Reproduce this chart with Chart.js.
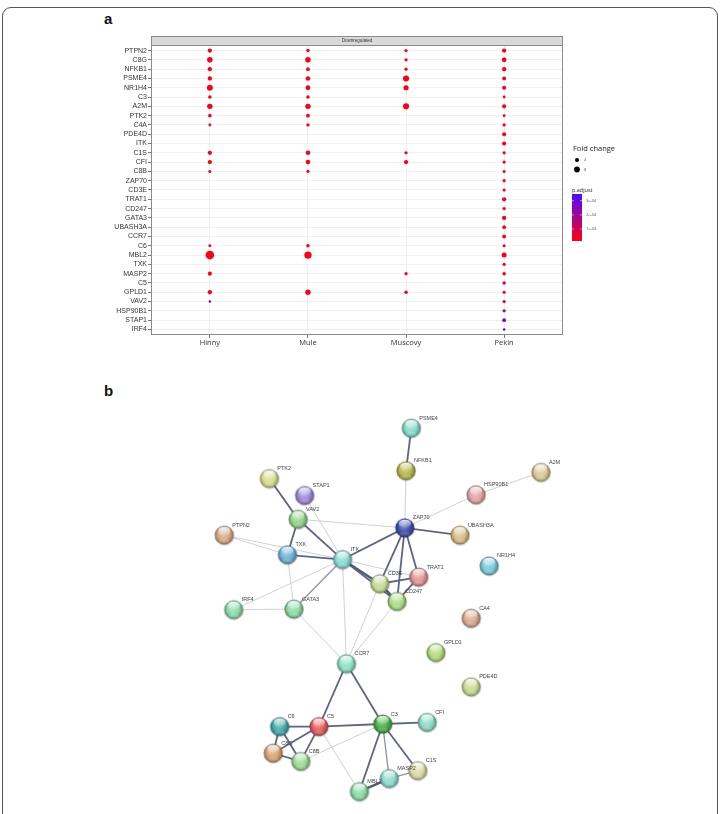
<!DOCTYPE html>
<html>
<head>
<meta charset="utf-8">
<script src="https://cdn.jsdelivr.net/npm/chart.js@4.4.1/dist/chart.umd.min.js"></script>
<style>
  html,body{margin:0;padding:0;background:#fff;}
  body{width:723px;height:814px;position:relative;overflow:hidden;font-family:"Liberation Sans",Arial,sans-serif;}
  #frame{position:absolute;left:2px;top:7px;width:716px;height:830px;border:1.5px solid #555;border-radius:9px;box-sizing:border-box;}
  .plabel{position:absolute;font:bold 15px "Liberation Sans",Arial,sans-serif;color:#111;}
  #cA{position:absolute;left:0;top:0;}
  #cB{position:absolute;left:0;top:395px;}
</style>
</head>
<body>
<div id="frame"></div>
<div class="plabel" style="left:104px;top:10px;">a</div>
<div class="plabel" style="left:104px;top:382px;">b</div>
<canvas id="cA" width="723" height="360"></canvas>
<canvas id="cB" width="723" height="419"></canvas>
<script>
// ---------------- Panel a data ----------------
const genes = ['PTPN2','C8G','NFKB1','PSME4','NR1H4','C3','A2M','PTK2','C4A','PDE4D','ITK','C1S','CFI','C8B','ZAP70','CD3E','TRAT1','CD247','GATA3','UBASH3A','CCR7','C6','MBL2','TXK','MASP2','C5','GPLD1','VAV2','HSP90B1','STAP1','IRF4'];
const groups = ['Hinny','Mule','Muscovy','Pekin'];
const stripTitle = 'Downregulated';

const foldHinny   = [4.5,7.5,4.5,4.5,8.5,3,7,3,2,null,null,4.5,4.5,2.2,null,null,null,null,null,null,null,2,18,null,4,null,4.5,1.5,null,null,null];
const foldMule    = [3,7.5,3.5,5,5.5,3,7,3.5,2.5,null,null,5,5,2.5,null,null,null,null,null,null,null,3,13,null,null,null,7,null,null,null,null];
const foldMuscovy = [2.5,2.5,2.5,9,6.5,null,9,null,null,null,null,2.5,4.5,null,null,null,null,null,null,null,null,null,null,null,2.5,null,3,null,null,null,null];
const foldPekin   = [4.5,5.5,4.5,3.5,4,2,4,2,2.5,4,4,2.5,2.5,2.2,2.5,2.5,4.5,2.5,4.5,3.5,3.5,2.2,6,2.5,3,3,2.5,2.5,2.5,3.5,1.5];

const padjHinny   = [2e-5,2e-5,2e-5,2e-5,2e-5,2e-5,2e-5,2e-5,2e-5,null,null,2e-5,2e-5,2e-5,null,null,null,null,null,null,null,2e-5,2e-5,null,2e-5,null,2e-5,2.2e-4,null,null,null];
const padjMule    = [2e-5,2e-5,2e-5,2e-5,2e-5,2e-5,2e-5,2e-5,2e-5,null,null,2e-5,2e-5,2e-5,null,null,null,null,null,null,null,2e-5,2e-5,null,null,null,2e-5,null,null,null,null];
const padjMuscovy = [2e-5,2e-5,2e-5,2e-5,2e-5,null,2e-5,null,null,null,null,2e-5,2e-5,null,null,null,null,null,null,null,null,null,null,null,2.5e-5,null,2.5e-5,null,null,null,null];
const padjPekin   = [2e-5,2e-5,2e-5,2e-5,2e-5,2e-5,2e-5,2e-5,2e-5,2e-5,2e-5,2e-5,2e-5,2e-5,2e-5,2e-5,2e-5,2e-5,2e-5,2e-5,2e-5,2.5e-5,2e-5,2.5e-5,3e-5,6e-5,4e-5,8e-5,2.4e-4,3.0e-4,3.3e-4];

const foldLegendValues = [4, 8];
const padjLegendTicks = [3e-4, 2e-4, 1e-4];
const padjLegendLabels = ['3e-04','2e-04','1e-04'];
const padjRange = [1.6e-5, 3.47e-4];

// ---------------- Panel b data ----------------
const nodeNames = ['PSME4','NFKB1','PTK2','STAP1','VAV2','ZAP70','PTPN2','TXK','ITK','TRAT1','CD3E','CD247','IRF4','GATA3','UBASH3A','HSP90B1','A2M','NR1H4','CA4','GPLD1','PDE4D','CCR7','C6','C5','C3','CFI','C8G','C8B','MASP2','C1S','MBL2'];
const nodeX = [412.7,407.3,266.7,303,296.3,406,220.3,285.3,342,420.3,380.3,398,230,292,462.7,479.3,546,492.7,474.3,438,474.3,346,277.3,317.7,383.3,429,270.7,299,390,419.3,359.3];
const nodeY = [419.3,464,472.3,490,515,524,531.7,552.3,557.3,575.7,582.7,601.3,610,609.3,531.7,489.3,465.7,564,619,655,691,666.7,732.7,732.7,730,728.3,760.7,769.3,787.3,779,801];
const nodeColors = ['#86dccb','#b8b84c','#d9df8e','#9e8ad9','#92d68e','#3f4faa','#d9aa84','#6cb4da','#84dcd4','#e39597','#c6dc92','#acdc84','#8cdcac','#8cdca4','#dbbc84','#e4a4a4','#dcca94','#7ccadb','#dbab94','#b3da7c','#cbda94','#8ce2c4','#44aaab','#e35c5c','#44b246','#8cdcc4','#dba474','#9cdc94','#8cdccc','#dcdca4','#8cdca4'];

const edgeFrom  = ['PSME4','NFKB1','PTK2','STAP1','VAV2','VAV2','VAV2','PTPN2','PTPN2','TXK','TXK','ITK','ITK','ITK','ITK','ITK','ITK','ITK','ZAP70','ZAP70','ZAP70','ZAP70','ZAP70','CD3E','CD3E','CD247','CD3E','CD247','IRF4','GATA3','HSP90B1','CCR7','CCR7','C6','C5','C3','C6','C6','C5','C5','C8G','C3','C5','C3','C3','C3','MASP2','MBL2'];
const edgeTo    = ['NFKB1','ZAP70','VAV2','ITK','ZAP70','TXK','ITK','TXK','ITK','ITK','GATA3','ZAP70','CD3E','CD247','TRAT1','IRF4','GATA3','CCR7','UBASH3A','HSP90B1','CD3E','CD247','TRAT1','TRAT1','CD247','TRAT1','CCR7','CCR7','GATA3','CCR7','A2M','C5','C3','C5','C3','CFI','C8G','C8B','C8G','C8B','C8B','C8B','MBL2','MBL2','MASP2','C1S','C1S','MASP2'];
const edgeScore = [0.9,0.4,0.9,0.45,0.45,0.9,0.9,0.45,0.45,0.95,0.45,0.9,0.99,0.9,0.45,0.45,0.7,0.4,0.9,0.4,0.95,0.95,0.9,0.9,0.99,0.9,0.45,0.45,0.45,0.4,0.4,0.9,0.9,0.9,0.9,0.9,0.9,0.9,0.9,0.9,0.9,0.4,0.4,0.9,0.7,0.9,0.7,0.99];

// ---------------- helpers ----------------
function radiusFor(fc){ return 1.02*Math.sqrt(fc); }
const lowCol = [255,0,20], highCol = [80,10,255];
function colorFor(p){
  let t = (p - padjRange[0])/(padjRange[1]-padjRange[0]);
  t = Math.max(0, Math.min(1, t));
  const c = lowCol.map((v,i)=>Math.round(v + (highCol[i]-v)*t));
  return `rgb(${c[0]},${c[1]},${c[2]})`;
}

const foldCols = [foldHinny, foldMule, foldMuscovy, foldPekin];
const padjCols = [padjHinny, padjMule, padjMuscovy, padjPekin];
const dotData = [];
foldCols.forEach((col, gi) => {
  col.forEach((fc, ri) => {
    if (fc !== null) dotData.push({x: gi, y: ri, fc: fc, p: padjCols[gi][ri]});
  });
});

const panelA = {
  id: 'panelA',
  afterDraw(chart){
    const ctx = chart.ctx, a = chart.chartArea;
    ctx.save();
    // panel border
    ctx.strokeStyle = '#8a8a8a'; ctx.lineWidth = 1;
    ctx.strokeRect(a.left+0.5, a.top+0.5, a.right-a.left-1, a.bottom-a.top-1);
    // strip
    ctx.fillStyle = '#d9d9d9';
    ctx.fillRect(a.left, a.top-9, a.right-a.left, 9);
    ctx.strokeStyle = '#8a8a8a';
    ctx.strokeRect(a.left+0.5, a.top-9+0.5, a.right-a.left-1, 9);
    ctx.fillStyle = '#333'; ctx.font = '4.5px "Liberation Sans", Arial, sans-serif';
    ctx.textAlign = 'center'; ctx.textBaseline = 'middle';
    ctx.fillText(stripTitle, (a.left+a.right)/2, a.top-4.5);
    // Fold change legend
    const lx = a.right + 10;
    ctx.textAlign = 'left'; ctx.textBaseline = 'alphabetic';
    ctx.fillStyle = '#222'; ctx.font = '7.5px "Open Sans", sans-serif';
    ctx.fillText('Fold change', lx, 151);
    foldLegendValues.forEach((v,i)=>{
      const y = 160 + i*9.5;
      ctx.fillStyle = '#000';
      ctx.beginPath(); ctx.arc(lx+4, y, radiusFor(v), 0, Math.PI*2); ctx.fill();
      ctx.fillStyle = '#555'; ctx.font = '4px "Open Sans", sans-serif';
      ctx.textBaseline = 'middle';
      ctx.fillText(String(v), lx+11, y);
    });
    // p.adjust colourbar
    ctx.textBaseline = 'alphabetic';
    ctx.fillStyle = '#222'; ctx.font = '5.5px "Open Sans", sans-serif';
    ctx.fillText('p.adjust', lx-1, 192);
    const bx = lx-1, bt = 194, bb = 241, bw = 10;
    const g = ctx.createLinearGradient(0, bb, 0, bt);
    for (let k=0;k<=20;k++){ const p = padjRange[0] + (padjRange[1]-padjRange[0])*k/20; g.addColorStop(k/20, colorFor(p)); }
    ctx.fillStyle = g; ctx.fillRect(bx, bt, bw, bb-bt);
    ctx.font = '4px "Open Sans", sans-serif'; ctx.textBaseline = 'middle';
    padjLegendTicks.forEach((v,i)=>{
      const y = bb - (v-padjRange[0])/(padjRange[1]-padjRange[0])*(bb-bt);
      ctx.strokeStyle = 'rgba(255,255,255,0.9)'; ctx.lineWidth = 0.6;
      ctx.beginPath(); ctx.moveTo(bx, y); ctx.lineTo(bx+2, y); ctx.moveTo(bx+bw-2, y); ctx.lineTo(bx+bw, y); ctx.stroke();
      ctx.fillStyle = '#555';
      ctx.fillText(padjLegendLabels[i], bx+bw+4, y);
    });
    ctx.restore();
  }
};

new Chart(document.getElementById('cA'), {
  type: 'scatter',
  data: { datasets: [{
    data: dotData,
    pointRadius: c => c.raw ? radiusFor(c.raw.fc) : 0,
    pointHoverRadius: c => c.raw ? radiusFor(c.raw.fc) : 0,
    backgroundColor: c => c.raw ? colorFor(c.raw.p) : '#f00',
    borderWidth: 0,
    pointBorderWidth: 0
  }]},
  options: {
    responsive: false, animation: false, devicePixelRatio: 1,
    layout: { padding: { left: 0, right: 160, top: 45, bottom: 12 } },
    plugins: { legend: { display: false }, tooltip: { enabled: false } },
    scales: {
      x: {
        type: 'linear', min: -0.6, max: groups.length - 1 + 0.6,
        afterBuildTicks: s => { s.ticks = groups.map((g,i)=>({value:i})); },
        afterFit: s => { s.height = 13; },
        ticks: { callback: (v) => groups[v], color: '#333', padding: 0, maxRotation: 0, autoSkip: false,
                 font: { size: 7.5, family: '"Open Sans", sans-serif' } },
        grid: { color: '#ececec', lineWidth: 0.8, tickLength: 3, tickColor: '#555' },
        border: { display: false }
      },
      y: {
        type: 'linear', reverse: true, min: -0.6, max: genes.length - 1 + 0.6,
        afterBuildTicks: s => { s.ticks = genes.map((g,i)=>({value:i})); },
        afterFit: s => { s.width = 151; },
        ticks: { callback: (v) => genes[v], color: '#333', padding: 1, autoSkip: false,
                 font: { size: 7, family: '"Liberation Sans", Arial, sans-serif' } },
        grid: { color: '#ececec', lineWidth: 0.8, tickLength: 3, tickColor: '#555' },
        border: { display: false }
      }
    }
  },
  plugins: [panelA]
});

// ---------------- Panel b ----------------
function hexToRgb(h){ const n = parseInt(h.slice(1),16); return [(n>>16)&255,(n>>8)&255,n&255]; }
function mix(rgb, t, target){ return rgb.map((v,i)=>Math.round(v + (target[i]-v)*t)); }
function rgbStr(c,a){ return a===undefined ? `rgb(${c[0]},${c[1]},${c[2]})` : `rgba(${c[0]},${c[1]},${c[2]},${a})`; }
function sphere(hex){
  const s = 22, c = document.createElement('canvas'); c.width = s; c.height = s;
  const g = c.getContext('2d'); const cx = s/2, cy = s/2, r = 9.3;
  const base = hexToRgb(hex);
  g.fillStyle = 'rgba(0,0,0,0.12)';
  g.beginPath(); g.arc(cx+0.4, cy+0.8, r+0.6, 0, Math.PI*2); g.fill();
  const rg = g.createRadialGradient(cx-1.5, cy-3, 1, cx, cy, r);
  rg.addColorStop(0, rgbStr(mix(base,0.35,[255,255,255])));
  rg.addColorStop(0.6, rgbStr(base));
  rg.addColorStop(1, rgbStr(mix(base,0.35,[0,0,0])));
  g.fillStyle = rg; g.beginPath(); g.arc(cx, cy, r, 0, Math.PI*2); g.fill();
  g.strokeStyle = rgbStr(mix(base,0.45,[0,0,0]),0.6); g.lineWidth = 0.6; g.stroke();
  const hg = g.createLinearGradient(0, cy-r+1, 0, cy);
  hg.addColorStop(0, 'rgba(255,255,255,0.9)'); hg.addColorStop(1, 'rgba(255,255,255,0.05)');
  g.fillStyle = hg; g.beginPath(); g.ellipse(cx, cy-4.3, 6.2, 4, 0, 0, Math.PI*2); g.fill();
  g.fillStyle = rgbStr(mix(base,0.4,[255,255,255]),0.35);
  g.beginPath(); g.ellipse(cx, cy+5.5, 5, 2, 0, 0, Math.PI*2); g.fill();
  return c;
}
const sphereImgs = nodeColors.map(sphere);
const nodeIndex = {}; nodeNames.forEach((n,i)=>nodeIndex[n]=i);

function edgeStyle(score){
  if (score >= 0.97) return { w: 2.5, c: '#525a7a' };
  if (score >= 0.85) return { w: 1.8, c: '#5e6585' };
  if (score >= 0.65) return { w: 1.3, c: '#8d91a6' };
  return { w: 0.9, c: '#cbccd3' };
}
const edgeDatasets = edgeFrom.map((f,i)=>{
  const a = nodeIndex[f], b = nodeIndex[edgeTo[i]], st = edgeStyle(edgeScore[i]);
  return { type: 'line', order: 2 + (edgeScore[i] >= 0.65 ? 0 : 1),
    data: [{x: nodeX[a], y: nodeY[a]}, {x: nodeX[b], y: nodeY[b]}],
    borderColor: st.c, borderWidth: st.w, pointRadius: 0, fill: false, tension: 0 };
});
const nodeDataset = { type: 'scatter', order: 0,
  data: nodeNames.map((n,i)=>({x: nodeX[i], y: nodeY[i], name: n})),
  pointStyle: sphereImgs, pointRadius: 9, pointHoverRadius: 9 };

const nodeLabels = {
  id: 'nodeLabels',
  afterDatasetsDraw(chart){
    const ctx = chart.ctx;
    const meta = chart.getDatasetMeta(chart.data.datasets.length - 1);
    ctx.save();
    ctx.font = '5.5px "Liberation Sans", Arial, sans-serif';
    ctx.fillStyle = '#444'; ctx.textAlign = 'left'; ctx.textBaseline = 'middle';
    meta.data.forEach((pt,i)=>{ ctx.fillText(nodeNames[i], pt.x + 8, pt.y - 10); });
    ctx.restore();
  }
};

new Chart(document.getElementById('cB'), {
  type: 'scatter',
  data: { datasets: [...edgeDatasets, nodeDataset] },
  options: {
    responsive: false, animation: false, devicePixelRatio: 1,
    layout: { padding: 0 },
    plugins: { legend: { display: false }, tooltip: { enabled: false } },
    scales: {
      x: { type: 'linear', display: false, min: 0, max: 723 },
      y: { type: 'linear', display: false, min: 395, max: 814, reverse: true }
    }
  },
  plugins: [nodeLabels]
});
</script>
</body>
</html>
